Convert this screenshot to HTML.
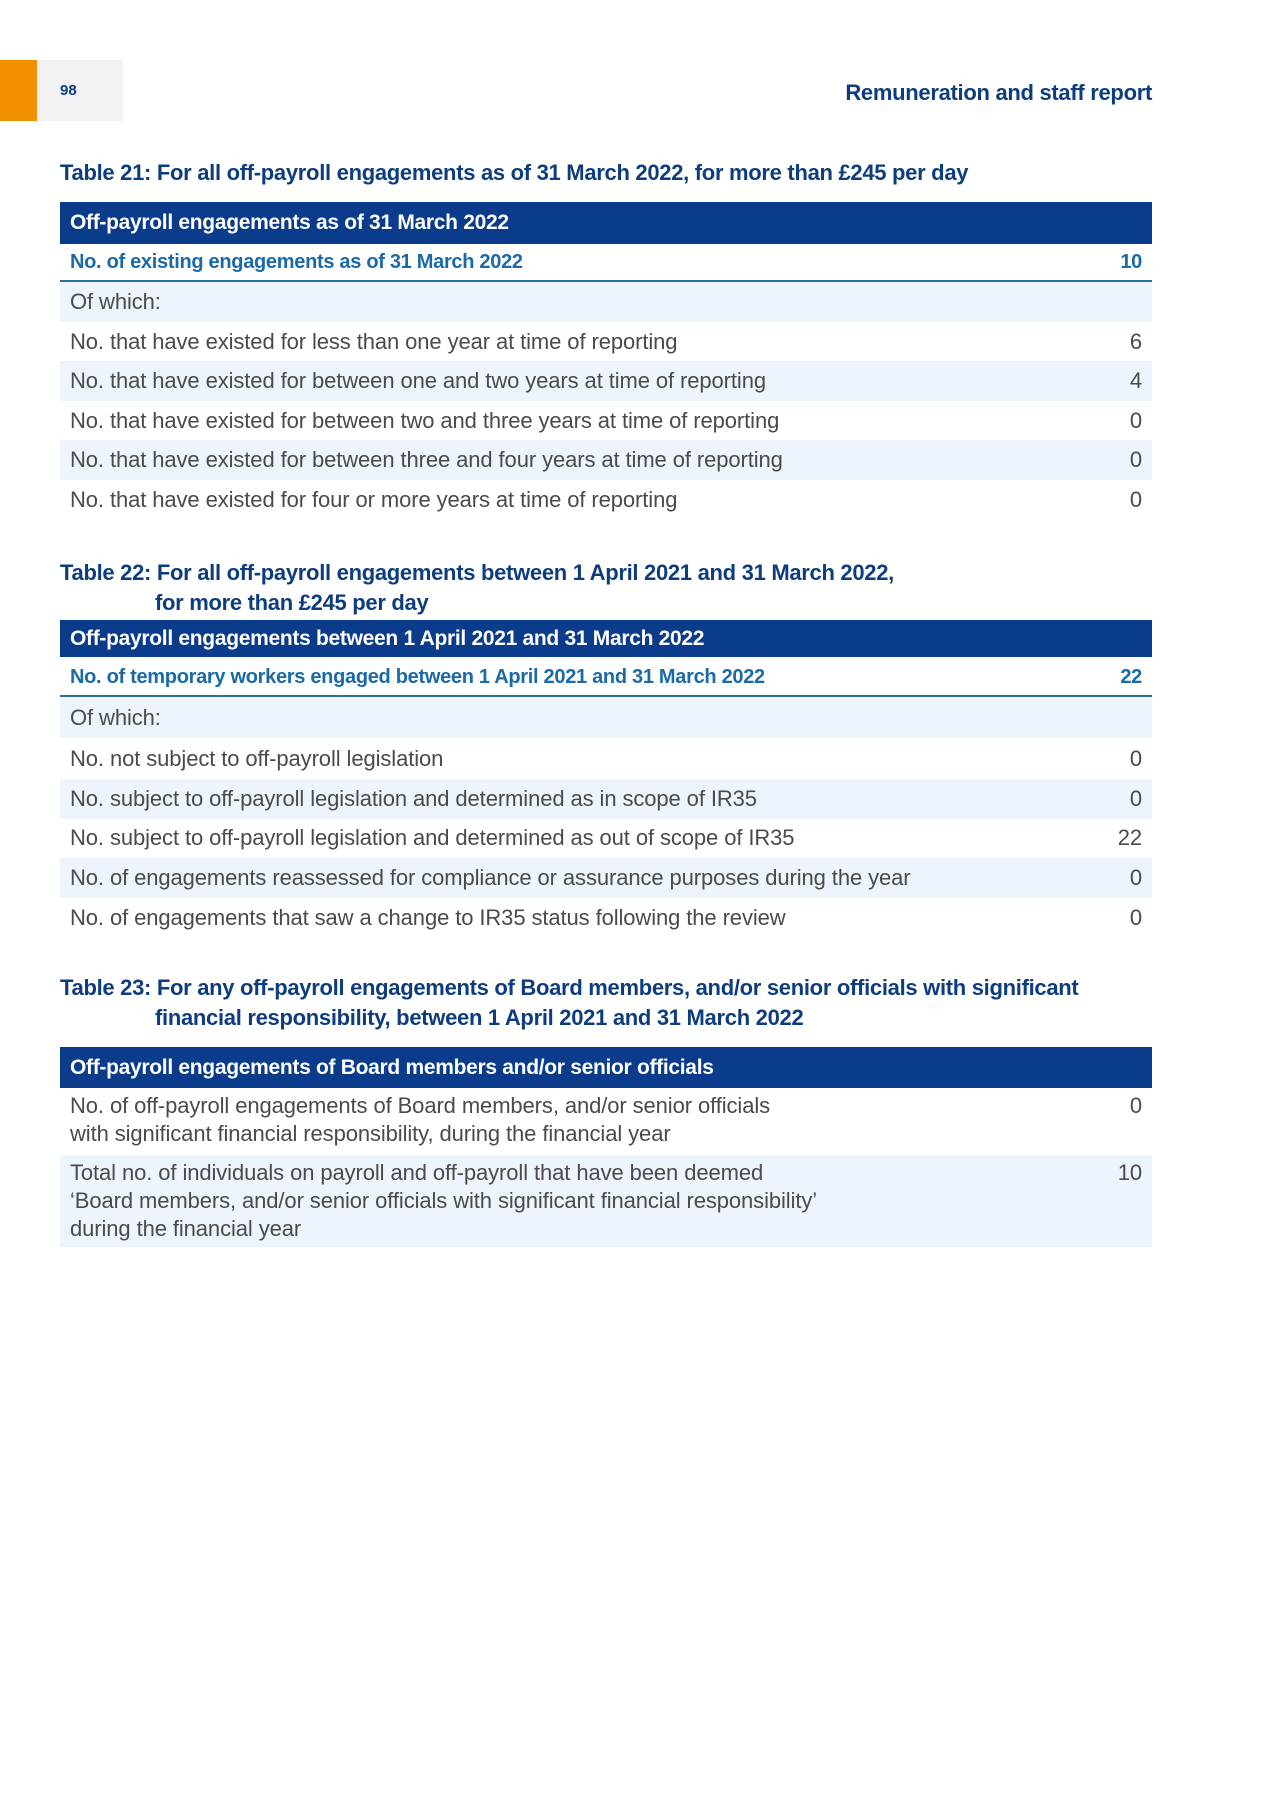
<!DOCTYPE html>
<html><head><meta charset="utf-8"><style>
body{margin:0;width:1272px;height:1800px;background:#fff;position:relative;font-family:"Liberation Sans",sans-serif;overflow:hidden}
.a{position:absolute}
.t{position:absolute;left:60px;font-weight:bold;color:#0e3d7e;font-size:22px;letter-spacing:-0.3px;line-height:30px}
.h{position:absolute;left:60px;background:#0b3c8c;color:#fff;font-weight:bold;font-size:21px;letter-spacing:-0.3px;box-sizing:border-box;padding-left:10px;display:flex;align-items:center}
.r{position:absolute;left:60px;height:40px;box-sizing:border-box;padding:0 10px;display:flex;align-items:center;justify-content:space-between;color:#4a4a4a;font-size:22px;letter-spacing:-0.1px}
.s{background:#eef4fb}
.b{color:#1a6aa8;font-weight:bold;font-size:20px;letter-spacing:-0.3px;border-bottom:2px solid #2b6f9e}
.h,.r{width:1092px}
</style></head><body>
<div class="a" style="left:0;top:60px;width:37px;height:61px;background:#f39200"></div>
<div class="a" style="left:37px;top:60px;width:86px;height:61px;background:#f2f2f4"></div>
<div class="a" style="left:60px;top:82px;font-size:15px;font-weight:bold;color:#0e3d7e">98</div>
<div class="a" style="right:120px;top:80px;font-size:22px;font-weight:bold;color:#0e3d7e;letter-spacing:-0.3px">Remuneration and staff report</div>

<div class="t" style="top:158px">Table 21: For all off-payroll engagements as of 31 March 2022, for more than £245 per day</div>
<div class="h" style="top:202px;height:42px">Off-payroll engagements as of 31 March 2022</div>
<div class="r b" style="top:244px;height:38px"><span>No. of existing engagements as of 31 March 2022</span><span>10</span></div>
<div class="r s" style="top:282px"><span>Of which:</span><span></span></div>
<div class="r" style="top:322px"><span>No. that have existed for less than one year at time of reporting</span><span>6</span></div>
<div class="r s" style="top:361px"><span>No. that have existed for between one and two years at time of reporting</span><span>4</span></div>
<div class="r" style="top:401px"><span>No. that have existed for between two and three years at time of reporting</span><span>0</span></div>
<div class="r s" style="top:440px"><span>No. that have existed for between three and four years at time of reporting</span><span>0</span></div>
<div class="r" style="top:480px"><span>No. that have existed for four or more years at time of reporting</span><span>0</span></div>

<div class="t" style="top:558px">Table 22: For all off-payroll engagements between 1 April 2021 and 31 March 2022,<br><span style="padding-left:95px">for more than £245 per day</span></div>
<div class="h" style="top:620px;height:37px">Off-payroll engagements between 1 April 2021 and 31 March 2022</div>
<div class="r b" style="top:659px;height:38px"><span>No. of temporary workers engaged between 1 April 2021 and 31 March 2022</span><span>22</span></div>
<div class="r s" style="top:698px"><span>Of which:</span><span></span></div>
<div class="r" style="top:739px"><span>No. not subject to off-payroll legislation</span><span>0</span></div>
<div class="r s" style="top:779px"><span>No. subject to off-payroll legislation and determined as in scope of IR35</span><span>0</span></div>
<div class="r" style="top:818px"><span>No. subject to off-payroll legislation and determined as out of scope of IR35</span><span>22</span></div>
<div class="r s" style="top:858px"><span>No. of engagements reassessed for compliance or assurance purposes during the year</span><span>0</span></div>
<div class="r" style="top:898px"><span>No. of engagements that saw a change to IR35 status following the review</span><span>0</span></div>

<div class="t" style="top:973px">Table 23: For any off-payroll engagements of Board members, and/or senior officials with significant<br><span style="padding-left:95px">financial responsibility, between 1 April 2021 and 31 March 2022</span></div>
<div class="h" style="top:1047px;height:41px">Off-payroll engagements of Board members and/or senior officials</div>
<div class="r" style="top:1092px;height:55px;align-items:flex-start;line-height:28px"><span>No. of off-payroll engagements of Board members, and/or senior officials<br>with significant financial responsibility, during the financial year</span><span>0</span></div>
<div class="r s" style="top:1155px;height:92px;align-items:flex-start;line-height:28px;padding-top:4px"><span>Total no. of individuals on payroll and off-payroll that have been deemed<br>‘Board members, and/or senior officials with significant financial responsibility’<br>during the financial year</span><span>10</span></div>
</body></html>
